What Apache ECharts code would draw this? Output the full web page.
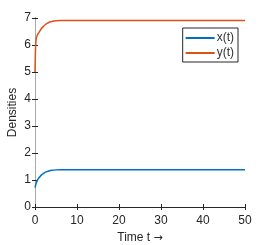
<!DOCTYPE html>
<html><head><meta charset="utf-8">
<script src="https://cdn.jsdelivr.net/npm/echarts@6/dist/echarts.min.js"></script>
<style>html,body{margin:0;padding:0;background:#fff}#c{width:270px;height:245px}</style>
</head><body><div id="c"></div>
<script>
var timeT = [0, 0.1, 0.2, 0.3, 0.4, 0.6, 0.8, 1, 1.5, 2, 2.5, 3, 3.5, 4, 5, 6, 8, 10, 20, 30, 40, 50];
var xSeries = [0.72, 0.78, 0.84, 0.89, 0.93, 1.0, 1.05, 1.09, 1.18, 1.24, 1.29, 1.32, 1.345, 1.36, 1.375, 1.38, 1.38, 1.38, 1.38, 1.38, 1.38, 1.38];
var ySeries = [5.0, 5.75, 6.1, 6.25, 6.3, 6.38, 6.43, 6.48, 6.6, 6.69, 6.76, 6.81, 6.85, 6.87, 6.895, 6.905, 6.91, 6.91, 6.91, 6.91, 6.91, 6.91];
var xTicks = [0, 10, 20, 30, 40, 50];
var yTicks = [0, 1, 2, 3, 4, 5, 6, 7];
var seriesNames = ['x(t)', 'y(t)'];

var font = '"Liberation Sans Narrow", "Liberation Sans", Arial, sans-serif';
var axisCol = '#262626';
function pairs(a){ return timeT.map(function(t,i){return [t,a[i]];}); }
var chart = echarts.init(document.getElementById('c'), null, {renderer:'canvas'});
chart.setOption({
  animation:false,
  grid:{left:35, right:25, top:18, bottom:38, containLabel:false, outerBoundsMode:'none'},
  legend:{
    data:seriesNames, orient:'vertical', right:32, top:28,
    itemWidth:29, itemHeight:2, itemGap:3, padding:[4,4,3,3],
    borderColor:axisCol, borderWidth:1, backgroundColor:'#fff',
    textStyle:{fontFamily:font, fontSize:12, color:'#333', padding:[0,0,0,-3]},
    icon:'rect'
  },
  xAxis:[{
    type:'value', min:0, max:50, interval:10,
    name:'Time t {a|\u2192}', nameLocation:'middle', nameGap:25, nameMoveOverlap:false,
    nameTextStyle:{fontFamily:font, fontSize:12, color:'#262626',
      rich:{a:{fontFamily:'"DejaVu Sans", sans-serif', fontSize:11, color:'#262626'}}},
    axisLine:{lineStyle:{color:axisCol, width:1}},
    axisTick:{inside:true, length:3, lineStyle:{color:axisCol}},
    axisLabel:{fontFamily:font, fontSize:12, color:'#262626', margin:8},
    splitLine:{show:false}
  },{
    type:'value', position:'top', min:0, max:50, interval:10,
    axisLine:{lineStyle:{color:axisCol, width:1}},
    axisTick:{inside:true, length:3, lineStyle:{color:axisCol}},
    axisLabel:{show:false}, splitLine:{show:false}
  }],
  yAxis:[{
    type:'value', min:0, max:7, interval:1,
    name:'Densities', nameLocation:'middle', nameGap:16, nameMoveOverlap:false,
    nameTextStyle:{fontFamily:font, fontSize:12, color:'#262626'},
    axisLine:{show:true, lineStyle:{color:axisCol, width:1}},
    axisTick:{show:true, inside:true, length:3, lineStyle:{color:axisCol}},
    axisLabel:{fontFamily:font, fontSize:12, color:'#262626', margin:4},
    splitLine:{show:false}
  },{
    type:'value', position:'right', min:0, max:7, interval:1,
    axisLine:{show:true, lineStyle:{color:'#aaaaaa', width:1}},
    axisTick:{show:true, inside:true, length:3, lineStyle:{color:axisCol}},
    axisLabel:{show:false}, splitLine:{show:false}
  }],
  series:[
    {name:seriesNames[0], type:'line', data:pairs(xSeries), smooth:0.3, showSymbol:false,
     lineStyle:{color:'#0072BD', width:1.5}, itemStyle:{color:'#0072BD'}},
    {name:seriesNames[1], type:'line', data:pairs(ySeries), smooth:0.3, showSymbol:false,
     lineStyle:{color:'#D95319', width:1.5}, itemStyle:{color:'#D95319'}}
  ]
});
</script></body></html>
